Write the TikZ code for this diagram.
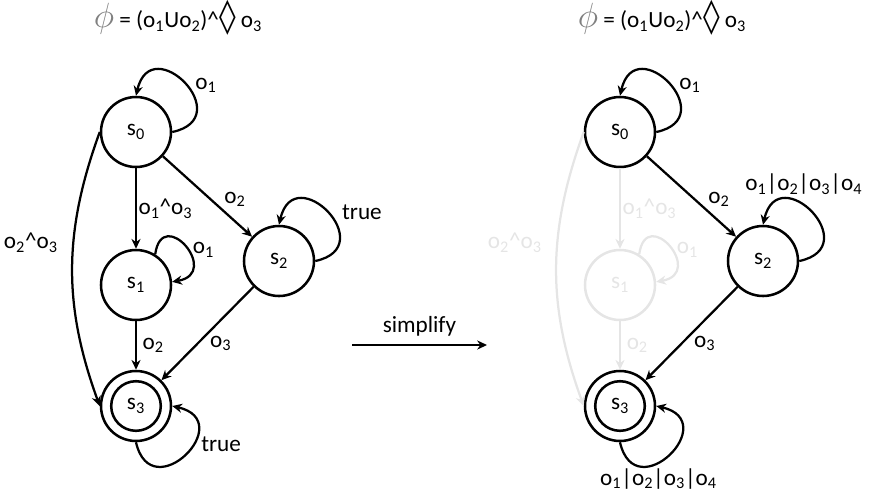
\documentclass[tikz,border=0pt]{standalone}
\usepackage{fontspec}
\setmainfont{Carlito}
\newfontfamily\symfont{DejaVu Sans}
\usetikzlibrary{arrows.meta,positioning}

\definecolor{phigray}{gray}{0.5}
\definecolor{fadegray}{gray}{0.9}

\newcommand{\subs}[1]{\textsubscript{#1}}
\newcommand{\cj}{\textasciicircum}
\newcommand{\formula}{{\color{phigray}\fontsize{27}{27}\selectfont$\phi$} = (o\subs{1}Uo\subs{2})\cj{\symfont\fontsize{24}{24}\selectfont ◊} o\subs{3}}
\newcommand{\anyobs}{o\subs{1}|o\subs{2}|o\subs{3}|o\subs{4}}

\begin{document}
\begin{tikzpicture}[
    font=\fontsize{16.5}{19}\selectfont,
    state/.style={draw, circle, line width=1.8pt, minimum size=1.75cm, inner sep=0pt},
    accept/.style={state, path picture={\draw[line width=1.8pt] (path picture bounding box.center) circle[radius=0.62cm];}},
    arr/.style={-{Stealth[length=7pt,width=6.5pt]}, line width=1.6pt},
    faded/.style={draw=fadegray, text=fadegray},
    lbl/.style={inner sep=1pt}
]
\useasboundingbox (0,0) rectangle (22,-12.375);

% before
\node (title1) at (4.45,-0.45) {\formula};
\node[state] (s0) at (3.4,-3.3) {s\subs{0}};
\node[state] (s1) at (3.4,-7.125) {s\subs{1}};
\node[state] (s2) at (6.975,-6.525) {s\subs{2}};
\node[accept] (s3) at (3.4,-10.15) {s\subs{3}};

\draw[arr] (s0.east) to[out=12,in=77,looseness=3.4] node[pos=0.48,right=2pt] {o\subs{1}} (s0.north);
\draw[arr] (s0) -- node[midway,right,lbl] {o\subs{1}\cj o\subs{3}} (s1);
\draw[arr] (s0) -- node[pos=0.66,above right,lbl] {o\subs{2}} (s2);
\draw[arr] (s0.west) to[out=-110,in=110] node[pos=0.4,left=7pt] {o\subs{2}\cj o\subs{3}} (s3.west);
\draw[arr] (s1.58) to[out=82,in=10,looseness=4] node[pos=0.55,right=2pt,lbl] {o\subs{1}} (s1.5);
\draw[arr] (s1) -- node[midway,right=3pt,lbl] {o\subs{2}} (s3);
\draw[arr] (s2.east) to[out=12,in=77,looseness=3.4] node[pos=0.5,right=6pt] {true} (s2.north);
\draw[arr] (s2) -- node[midway,below right,lbl] {o\subs{3}} (s3);
\draw[arr] (s3.south) to[out=-77,in=-13,looseness=3.4] node[pos=0.6,right=2pt] {true} (s3.east);

% simplify step
\coordinate (simpA) at (8.8,-8.625);
\coordinate (simpB) at (12.175,-8.625);
\draw[arr] (simpA) -- node[above=2pt] {simplify} (simpB);

% after
\node (title2) at (16.55,-0.45) {\formula};
\node[state] (t0) at (15.5,-3.3) {s\subs{0}};
\node[state, faded] (t1) at (15.5,-7.125) {s\subs{1}};
\node[state] (t2) at (19.075,-6.525) {s\subs{2}};
\node[accept] (t3) at (15.5,-10.15) {s\subs{3}};

\draw[arr, faded] (t0) -- node[midway,right,lbl] {o\subs{1}\cj o\subs{3}} (t1);
\draw[arr, faded] (t0.west) to[out=-110,in=110] node[pos=0.4,left=7pt] {o\subs{2}\cj o\subs{3}} (t3.west);
\draw[arr, faded] (t1.58) to[out=82,in=10,looseness=4] node[pos=0.55,right=2pt,lbl] {o\subs{1}} (t1.5);
\draw[arr, faded] (t1) -- node[midway,right=3pt,lbl] {o\subs{2}} (t3);
\draw[arr] (t0.east) to[out=12,in=77,looseness=3.4] node[pos=0.48,right=2pt] {o\subs{1}} (t0.north);
\draw[arr] (t0) -- node[pos=0.66,above right,lbl] {o\subs{2}} (t2);
\draw[arr] (t2.east) to[out=12,in=77,looseness=3.4] node[pos=0.58,above=4pt] {\anyobs} (t2.north);
\draw[arr] (t2) -- node[midway,below right,lbl] {o\subs{3}} (t3);
\draw[arr] (t3.south) to[out=-77,in=-13,looseness=3.4] node[pos=0.4,below] {\anyobs} (t3.east);
\end{tikzpicture}
\end{document}
